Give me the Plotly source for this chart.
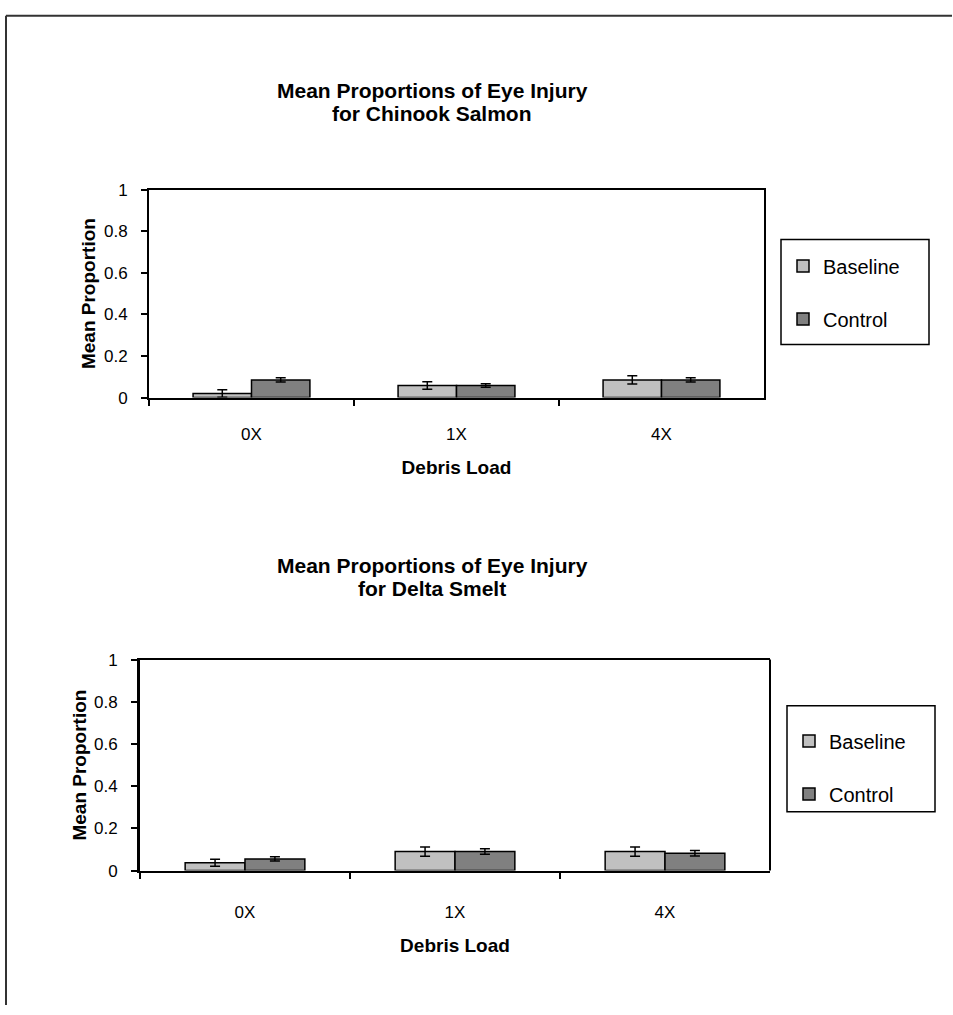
import plotly.graph_objects as go

# Debris load categories shared by both panels
categories = ["0X", "1X", "4X"]

# Chinook salmon: mean proportion of eye injury and error half-widths
salmon_baseline = [0.02, 0.058, 0.085]
salmon_baseline_err = [0.018, 0.018, 0.02]
salmon_control = [0.085, 0.058, 0.085]
salmon_control_err = [0.01, 0.008, 0.01]

# Delta smelt: mean proportion of eye injury and error half-widths
smelt_baseline = [0.037, 0.09, 0.09]
smelt_baseline_err = [0.017, 0.022, 0.022]
smelt_control = [0.055, 0.09, 0.082]
smelt_control_err = [0.01, 0.013, 0.013]

y_ticks = [0, 0.2, 0.4, 0.6, 0.8, 1]
y_tick_text = ["0", "0.2", "0.4", "0.6", "0.8", "1"]

W, H = 953, 1015
FONT = "Liberation Sans, Arial, sans-serif"
BASE_COLOR = "#C0C0C0"
CTRL_COLOR = "#808080"


def px(x):
    return x / W


def py(y):
    return 1 - y / H


fig = go.Figure()


def add_bars(xa, ya, legend, grp, base, base_err, ctrl, ctrl_err):
    for name, vals, errs, color in (
        ("Baseline", base, base_err, BASE_COLOR),
        ("Control", ctrl, ctrl_err, CTRL_COLOR),
    ):
        fig.add_trace(go.Bar(
            x=categories, y=vals, name=name,
            xaxis=xa, yaxis=ya, legend=legend,
            legendgroup=f"{grp}-{name}",
            marker=dict(color=color, line=dict(color="black", width=1.5)),
            error_y=dict(type="data", array=errs, visible=True,
                         color="black", thickness=1.5, width=5),
        ))


add_bars("x", "y", "legend", "top", salmon_baseline, salmon_baseline_err,
         salmon_control, salmon_control_err)
add_bars("x2", "y2", "legend2", "bot", smelt_baseline, smelt_baseline_err,
         smelt_control, smelt_control_err)

axis_font = dict(family=FONT, size=17, color="black")
title_font = dict(family=FONT, size=19, color="black", weight="bold")

xcommon = dict(
    type="category", showline=True, linecolor="black", linewidth=2,
    mirror=True, ticks="outside", tickson="boundaries", ticklen=6,
    tickcolor="black", tickwidth=2, tickfont=axis_font,
    showgrid=False, zeroline=False, fixedrange=True,
)
ycommon = dict(
    range=[0, 1], tickvals=y_ticks, ticktext=y_tick_text,
    showline=True, linecolor="black", ticks="outside", ticklen=6,
    tickcolor="black", tickwidth=2, tickfont=axis_font,
    ticklabelstandoff=10, showgrid=False, zeroline=False,
    fixedrange=True,
)

# Panel rectangles in pixels: (left, right, top, bottom)
top_box = (149, 764, 184, 396)
bot_box = (140, 770, 663, 878)

fig.update_layout(
    width=W, height=H,
    margin=dict(l=0, r=0, t=0, b=0),
    paper_bgcolor="white", plot_bgcolor="white",
    font=dict(family=FONT, color="black"),
    barmode="group", bargap=0.43, bargroupgap=0,
    xaxis=dict(xcommon, domain=[px(top_box[0]), px(top_box[1])], anchor="y",
               ticklabelstandoff=20,
               title=dict(text="Debris Load", font=title_font, standoff=18)),
    yaxis=dict(ycommon, domain=[py(top_box[3]), py(top_box[2])], anchor="x",
               linewidth=2, mirror=True,
               title=dict(text="Mean Proportion", font=title_font, standoff=3)),
    xaxis2=dict(xcommon, domain=[px(bot_box[0]), px(bot_box[1])], anchor="y2",
                ticklabelstandoff=25,
                title=dict(text="Debris Load", font=title_font, standoff=18)),
    yaxis2=dict(ycommon, domain=[py(bot_box[3]), py(bot_box[2])], anchor="x2",
                linewidth=3, mirror=False,
                title=dict(text="Mean Proportion", font=title_font, standoff=3)),
    legend=dict(
        x=px(783), y=py(242), xanchor="left", yanchor="top",
        bgcolor="rgba(0,0,0,0)", borderwidth=0,
        font=dict(family=FONT, size=20, color="black"),
        tracegroupgap=24, itemwidth=30, traceorder="grouped",
    ),
    legend2=dict(
        x=px(789), y=py(726), xanchor="left", yanchor="top",
        bgcolor="rgba(0,0,0,0)", borderwidth=0,
        font=dict(family=FONT, size=20, color="black"),
        tracegroupgap=24, itemwidth=30, traceorder="grouped",
    ),
    showlegend=True,
)

shapes = [
    # outer frame (top and left edges)
    dict(type="line", xref="paper", yref="paper", x0=px(6), x1=px(952),
         y0=py(7), y1=py(7), line=dict(color="#333333", width=2)),
    dict(type="line", xref="paper", yref="paper", x0=px(6), x1=px(6),
         y0=py(7), y1=py(1015), line=dict(color="#333333", width=2)),
    # legend boxes
    dict(type="rect", xref="paper", yref="paper", x0=px(781), x1=px(929),
         y0=py(342), y1=py(235), line=dict(color="black", width=1.5),
         fillcolor="white", layer="below"),
    dict(type="rect", xref="paper", yref="paper", x0=px(787), x1=px(935),
         y0=py(818), y1=py(710), line=dict(color="black", width=1.5),
         fillcolor="white", layer="below"),
    # right edge of the lower panel
    dict(type="line", xref="x2 domain", yref="y2 domain", x0=1, x1=1,
         y0=0, y1=1, line=dict(color="black", width=2)),
]
fig.update_layout(shapes=shapes)

# Panel titles, one annotation per line
title_lines = [
    ("Mean Proportions of Eye Injury", 432, 83),
    ("for Chinook Salmon", 432, 107),
    ("Mean Proportions of Eye Injury", 432, 567),
    ("for Delta Smelt", 432, 591),
]
for text, cx, cy in title_lines:
    fig.add_annotation(
        text=text, xref="paper", yref="paper", x=px(cx), y=py(cy),
        xanchor="center", yanchor="middle", showarrow=False,
        font=dict(family=FONT, size=21, color="black", weight="bold"),
    )

fig.write_html("out.html")
